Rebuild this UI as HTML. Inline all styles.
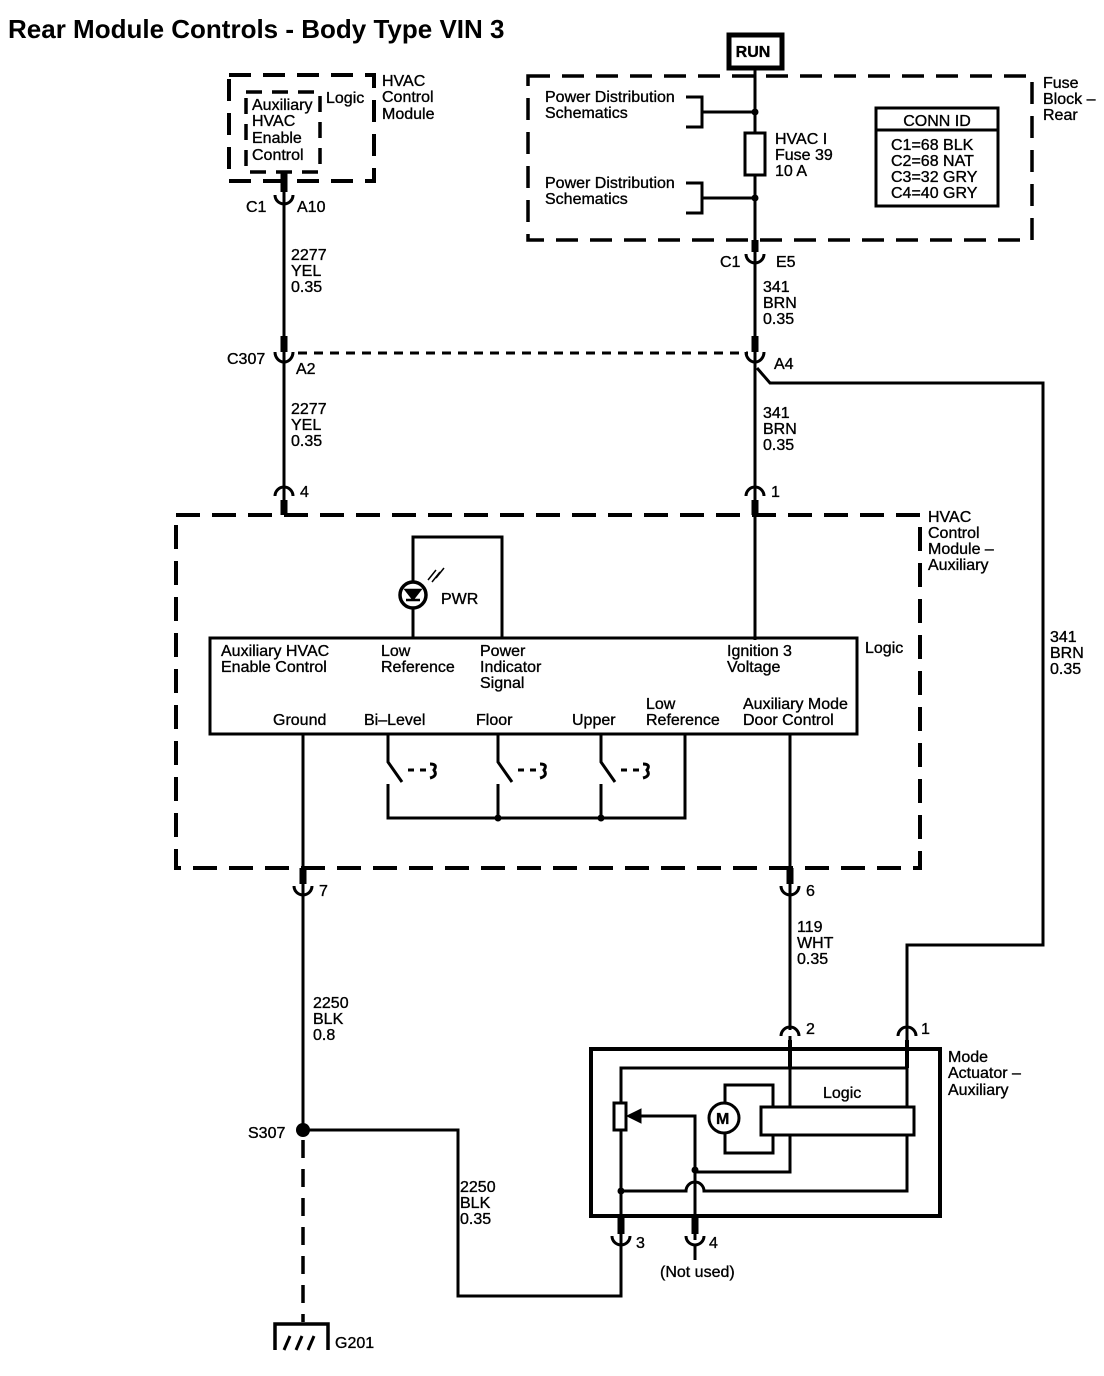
<!DOCTYPE html>
<html><head><meta charset="utf-8"><style>
html,body{margin:0;padding:0;background:#fff}
svg{display:block}
text{font-family:"Liberation Sans",sans-serif;font-size:16px;fill:#000;stroke:#000;stroke-width:0.35}
</style></head><body>
<svg width="1104" height="1376" viewBox="0 0 1104 1376" xmlns="http://www.w3.org/2000/svg">
<text x="8" y="38" style="font-size:26px;font-weight:bold;stroke-width:0">Rear Module Controls - Body Type VIN  3</text>
<g fill="none" stroke="#000">
<rect x="229" y="75" width="145" height="106" stroke-width="4" stroke-dasharray="22,12"/>
<rect x="246" y="92" width="74" height="80" stroke-width="3.5" stroke-dasharray="16,10"/>
<line x1="284" y1="172" x2="284" y2="515" stroke-width="3"/>
<line x1="284" y1="172" x2="284" y2="192" stroke-width="7"/>
<path d="M275 195 A9 9 0 0 0 293 195" stroke-width="3"/>
<line x1="284" y1="336" x2="284" y2="352" stroke-width="7"/>
<path d="M275 352 A9 10 0 0 0 293 352" stroke-width="3"/>
<path d="M275 496 A9 9 0 0 1 293 496" stroke-width="3"/>
<line x1="284" y1="500" x2="284" y2="515" stroke-width="7"/>
<line x1="298" y1="353" x2="748" y2="353" stroke-width="3" stroke-dasharray="9,7"/>
<rect x="729" y="35" width="53" height="33" stroke-width="5"/>
<rect x="528" y="76" width="504" height="164" stroke-width="3.5" stroke-dasharray="22,12"/>
<line x1="755" y1="70" x2="755" y2="640" stroke-width="3"/>
<rect x="745" y="133" width="20" height="42" fill="#fff" stroke-width="3"/>
<path d="M686 97 H702 V127 H686 M702 112 H755" stroke-width="3"/>
<path d="M686 183 H702 V213 H686 M702 198 H755" stroke-width="3"/>
<rect x="876" y="108" width="122" height="98" stroke-width="3"/>
<line x1="876" y1="130" x2="998" y2="130" stroke-width="3"/>
<line x1="755" y1="240" x2="755" y2="252" stroke-width="7"/>
<path d="M746 254 A9 9 0 0 0 764 254" stroke-width="3"/>
<line x1="755" y1="336" x2="755" y2="352" stroke-width="7"/>
<path d="M746 352 A9 10 0 0 0 764 352" stroke-width="3"/>
<path d="M757 368 L770 383 H1043 V945 H907 V1070" stroke-width="3"/>
<path d="M746 496 A9 9 0 0 1 764 496" stroke-width="3"/>
<line x1="755" y1="500" x2="755" y2="515" stroke-width="7"/>
<rect x="176" y="515" width="744" height="353" stroke-width="4" stroke-dasharray="24,12"/>
<rect x="210" y="638" width="647" height="96" stroke-width="3"/>
<path d="M413 638 V537 H502 V638" stroke-width="3"/>
<circle cx="413" cy="595" r="13" fill="#fff" stroke-width="3.5"/>
<path d="M406 590 H420 L413 599 Z M406 600 H420" stroke-width="2.5" fill="#000"/>
<path d="M428 580 L436 570 M432 582 L440 572 M436 578 L444 568" stroke-width="1.5"/>
<path d="M388 734 V762 L402 782 M388 784 V818 H685 V734" stroke-width="3"/>
<path d="M498 734 V762 L512 782 M498 784 V818" stroke-width="3"/>
<path d="M601 734 V762 L615 782 M601 784 V818" stroke-width="3"/>
<path d="M408 770 H414 M420 770 H426 M518 770 H524 M530 770 H536 M621 770 H627 M633 770 H639" stroke-width="3"/>
<path d="M430 764 Q438 764 434 770 Q438 776 430 778 M540 764 Q548 764 544 770 Q548 776 540 778 M643 764 Q651 764 647 770 Q651 776 643 778" stroke-width="3"/>
<line x1="303" y1="734" x2="303" y2="1130" stroke-width="3"/>
<line x1="303" y1="868" x2="303" y2="884" stroke-width="7"/>
<path d="M294 886 A9 9 0 0 0 312 886" stroke-width="3"/>
<line x1="303" y1="1140" x2="303" y2="1322" stroke-width="3.5" stroke-dasharray="18,11"/>
<path d="M275 1350 V1324 H328 V1350" stroke-width="3.5"/>
<path d="M284 1350 L290 1336 M296 1350 L302 1336 M308 1350 L314 1336" stroke-width="3"/>
<path d="M303 1130 H458 V1296 H621 V1232" stroke-width="3"/>
<line x1="790" y1="734" x2="790" y2="1030" stroke-width="3"/>
<line x1="790" y1="868" x2="790" y2="884" stroke-width="7"/>
<path d="M781 886 A9 9 0 0 0 799 886" stroke-width="3"/>
<path d="M781 1036 A9 9 0 0 1 799 1036" stroke-width="3"/>
<path d="M898 1036 A9 9 0 0 1 916 1036" stroke-width="3"/>
<rect x="591" y="1049" width="349" height="167" stroke-width="4"/>
<line x1="790" y1="1036" x2="790" y2="1172" stroke-width="3"/>
<line x1="907" y1="1036" x2="907" y2="1191" stroke-width="3"/>
<line x1="790" y1="1040" x2="790" y2="1068" stroke-width="4"/>
<line x1="907" y1="1040" x2="907" y2="1068" stroke-width="4"/>
<path d="M907 1068 H621 V1232" stroke-width="3"/>
<rect x="614" y="1103" width="12" height="27" fill="#fff" stroke-width="3"/>
<path d="M640 1116 H695 V1240" stroke-width="3"/>
<path d="M627 1116 L641 1109 L641 1123 Z" fill="#000" stroke-width="1"/>
<rect x="725" y="1085" width="48" height="68" stroke-width="3"/>
<circle cx="724" cy="1118" r="15" fill="#fff" stroke-width="3"/>
<rect x="761" y="1107" width="153" height="28" fill="#fff" stroke-width="3"/>
<path d="M790 1135 V1172 H695" stroke-width="3"/>
<path d="M907 1135 V1191 H704 A6 6 0 0 0 686 1191 H621" stroke-width="3"/>
<line x1="621" y1="1216" x2="621" y2="1234" stroke-width="7"/>
<line x1="695" y1="1216" x2="695" y2="1234" stroke-width="7"/>
<path d="M612 1236 A9 9 0 0 0 630 1236" stroke-width="3"/>
<path d="M686 1236 A9 9 0 0 0 704 1236" stroke-width="3"/>
<line x1="695" y1="1244" x2="695" y2="1260" stroke-width="3"/>
</g>
<g fill="#000">
<circle cx="755" cy="112" r="3.5"/><circle cx="755" cy="198" r="3.5"/>
<circle cx="498" cy="818" r="3.5"/><circle cx="601" cy="818" r="3.5"/>
<circle cx="303" cy="1130" r="7"/>
<circle cx="695" cy="1170" r="3.5"/><circle cx="621" cy="1191" r="3.5"/>
</g>
<text x="753" y="57" text-anchor="middle" style="font-weight:bold">RUN</text>
<text x="252" y="110">Auxiliary</text><text x="252" y="126">HVAC</text><text x="252" y="143">Enable</text><text x="252" y="160">Control</text>
<text x="326" y="103">Logic</text>
<text x="382" y="86">HVAC</text><text x="382" y="102">Control</text><text x="382" y="119">Module</text>
<text x="545" y="102">Power Distribution</text><text x="545" y="118">Schematics</text>
<text x="545" y="188">Power Distribution</text><text x="545" y="204">Schematics</text>
<text x="775" y="144">HVAC I</text><text x="775" y="160">Fuse 39</text><text x="775" y="176">10 A</text>
<text x="937" y="126" text-anchor="middle">CONN ID</text>
<text x="891" y="150">C1=68 BLK</text><text x="891" y="166">C2=68 NAT</text><text x="891" y="182">C3=32 GRY</text><text x="891" y="198">C4=40 GRY</text>
<text x="1043" y="88">Fuse</text><text x="1043" y="104">Block –</text><text x="1043" y="120">Rear</text>
<text x="246" y="212">C1</text><text x="297" y="212">A10</text>
<text x="291" y="260">2277</text><text x="291" y="276">YEL</text><text x="291" y="292">0.35</text>
<text x="227" y="364">C307</text><text x="296" y="374">A2</text>
<text x="291" y="414">2277</text><text x="291" y="430">YEL</text><text x="291" y="446">0.35</text>
<text x="300" y="497">4</text>
<text x="720" y="267">C1</text><text x="776" y="267">E5</text>
<text x="763" y="292">341</text><text x="763" y="308">BRN</text><text x="763" y="324">0.35</text>
<text x="774" y="369">A4</text>
<text x="763" y="418">341</text><text x="763" y="434">BRN</text><text x="763" y="450">0.35</text>
<text x="771" y="497">1</text>
<text x="928" y="522">HVAC</text><text x="928" y="538">Control</text><text x="928" y="554">Module –</text><text x="928" y="570">Auxiliary</text>
<text x="1050" y="642">341</text><text x="1050" y="658">BRN</text><text x="1050" y="674">0.35</text>
<text x="441" y="604">PWR</text>
<text x="221" y="656">Auxiliary HVAC</text><text x="221" y="672">Enable Control</text>
<text x="381" y="656">Low</text><text x="381" y="672">Reference</text>
<text x="480" y="656">Power</text><text x="480" y="672">Indicator</text><text x="480" y="688">Signal</text>
<text x="727" y="656">Ignition 3</text><text x="727" y="672">Voltage</text>
<text x="865" y="653">Logic</text>
<text x="273" y="725">Ground</text><text x="364" y="725">Bi–Level</text><text x="476" y="725">Floor</text><text x="572" y="725">Upper</text>
<text x="646" y="709">Low</text><text x="646" y="725">Reference</text>
<text x="743" y="709">Auxiliary Mode</text><text x="743" y="725">Door Control</text>
<text x="319" y="896">7</text><text x="806" y="896">6</text>
<text x="797" y="932">119</text><text x="797" y="948">WHT</text><text x="797" y="964">0.35</text>
<text x="313" y="1008">2250</text><text x="313" y="1024">BLK</text><text x="313" y="1040">0.8</text>
<text x="806" y="1034">2</text><text x="921" y="1034">1</text>
<text x="948" y="1062">Mode</text><text x="948" y="1078">Actuator –</text><text x="948" y="1095">Auxiliary</text>
<text x="823" y="1098">Logic</text>
<text x="716" y="1124" style="font-weight:bold">M</text>
<text x="248" y="1138">S307</text>
<text x="460" y="1192">2250</text><text x="460" y="1208">BLK</text><text x="460" y="1224">0.35</text>
<text x="636" y="1248">3</text><text x="709" y="1248">4</text>
<text x="660" y="1277">(Not used)</text>
<text x="335" y="1348">G201</text>
</svg>
</body></html>
